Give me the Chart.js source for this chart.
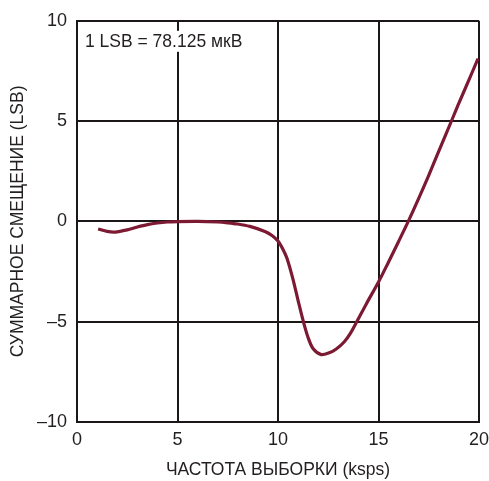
<!DOCTYPE html>
<html>
<head>
<meta charset="utf-8">
<script src="https://cdn.jsdelivr.net/npm/chart.js@4"></script>
<style>
html,body{margin:0;padding:0;background:#fff;}
#wrap{width:489px;height:481px;position:relative;}
</style>
</head>
<body>
<div id="wrap"><canvas id="c" width="489" height="481"></canvas></div>
<script>
const xValues = [1.05, 1.5, 1.9, 2.5, 3, 3.5, 4, 4.5, 5, 6, 7, 7.5, 8, 8.6, 9.35, 9.7, 10.0, 10.25, 10.45, 10.75, 11.0, 11.25, 11.5, 11.75, 12.15, 12.55, 12.9, 13.3, 13.6, 13.92, 14.4, 15, 15.5, 16, 16.48, 17, 17.5, 18, 18.64, 19, 19.5, 19.95];
const offsetLSB = [-0.38, -0.5, -0.53, -0.42, -0.28, -0.16, -0.08, -0.03, -0.01, 0, -0.03, -0.07, -0.13, -0.25, -0.5, -0.7, -0.98, -1.4, -1.85, -2.9, -3.95, -4.95, -5.8, -6.35, -6.64, -6.55, -6.36, -6.0, -5.58, -5.0, -4.1, -3.02, -2.02, -1.0, 0, 1.15, 2.3, 3.5, 5.03, 5.9, 7.05, 8.12];
const xTicks = [0, 5, 10, 15, 20];
const yTicks = [-10, -5, 0, 5, 10];
const xTitle = 'ЧАСТОТА ВЫБОРКИ (ksps)';
const yTitle = 'СУММАРНОЕ СМЕЩЕНИЕ (LSB)';
const note = '1 LSB = 78.125 мкВ';

const FONT = "'Liberation Sans', Arial, sans-serif";
const INK = '#231f20';

const notePlugin = {
  id: 'note',
  afterDraw(chart) {
    const {ctx, chartArea} = chart;
    ctx.save();
    ctx.font = '17.5px ' + FONT;
    ctx.textBaseline = 'middle';
    ctx.textAlign = 'left';
    const w = ctx.measureText(note).width;
    ctx.fillStyle = '#fff';
    ctx.fillRect(chartArea.left + 5, chartArea.top + 10, w + 6, 21);
    ctx.fillStyle = INK;
    ctx.fillText(note, chartArea.left + 8, chartArea.top + 21);
    ctx.restore();
  }
};

new Chart(document.getElementById('c'), {
  type: 'line',
  data: {
    datasets: [{
      data: xValues.map((x, i) => ({x: x, y: offsetLSB[i]})),
      borderColor: '#7d1a33',
      borderWidth: 3.2,
      pointRadius: 0,
      tension: 0.3,
      fill: false
    }]
  },
  options: {
    responsive: false,
    animation: false,
    layout: {padding: {left: 8, right: 0, top: 20, bottom: 0}},
    plugins: {legend: {display: false}, tooltip: {enabled: false}},
    scales: {
      x: {
        type: 'linear', min: 0, max: 20,
        afterBuildTicks: s => { s.ticks = xTicks.map(v => ({value: v})); },
        grid: {color: '#1a1716', lineWidth: 2, drawTicks: false},
        border: {color: '#1a1716', width: 2},
        ticks: {color: INK, font: {size: 18, family: FONT}, padding: 7},
        title: {display: true, text: xTitle, color: INK, font: {size: 17.5, family: FONT}, padding: {top: 1, bottom: 0}},
        afterFit: s => { s.height = 59; s.paddingRight = 10; s.paddingLeft = 0; }
      },
      y: {
        type: 'linear', min: -10, max: 10,
        afterBuildTicks: s => { s.ticks = yTicks.map(v => ({value: v})); },
        grid: {color: '#1a1716', lineWidth: 2, drawTicks: false},
        border: {color: '#1a1716', width: 2},
        ticks: {color: INK, font: {size: 18, family: FONT}, padding: 10,
          callback: v => String(v).replace('-', '\u2013')},
        title: {display: true, text: yTitle, color: INK, font: {size: 17.5, family: FONT}, padding: {top: 0, bottom: 2}},
        afterFit: s => { s.width = 69; }
      }
    }
  },
  plugins: [notePlugin]
});
</script>
</body>
</html>
